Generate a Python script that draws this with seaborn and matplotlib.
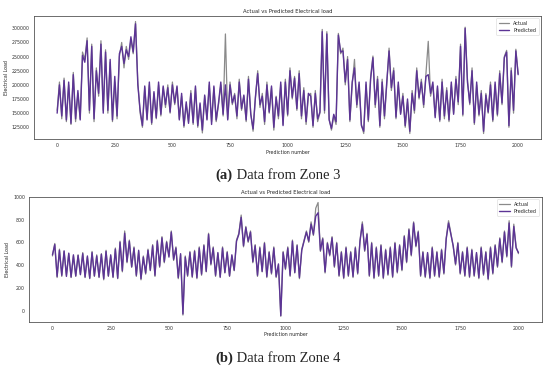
import numpy as np
import pandas as pd
import matplotlib
matplotlib.use('Agg')
import matplotlib.pyplot as plt
import seaborn as sns

# prediction index, one reading every 10 predictions
step = 10

# Zone 3 electrical load (thousands)
zone3_actual = [
    155, 205, 140, 212, 135, 200, 130, 222, 135, 185,
    140, 258, 245, 283, 150, 272, 135, 230, 180, 278,
    155, 262, 150, 240, 135, 205, 140, 250, 275, 230,
    268, 245, 280, 255, 312, 205, 150, 125, 195, 140,
    200, 130, 185, 140, 200, 145, 195, 160, 200, 150,
    205, 165, 195, 140, 180, 125, 165, 135, 190, 130,
    195, 125, 165, 115, 180, 140, 200, 135, 195, 135,
    165, 200, 145, 290, 140, 205, 165, 185, 140, 210,
    155, 180, 135, 215, 150, 118, 175, 225, 160, 185,
    130, 205, 150, 195, 120, 180, 140, 200, 130, 210,
    145, 230, 175, 215, 155, 225, 140, 195, 130, 180,
    185, 125, 190, 135, 150, 298, 150, 294, 140, 120,
    145, 130, 291, 255, 265, 200, 250, 135, 200, 245,
    160, 200, 130, 114, 200, 135, 215, 251, 160, 215,
    125, 210, 140, 200, 265, 190, 230, 140, 200, 150,
    185, 125, 170, 114, 190, 150, 230, 175, 210, 160,
    220, 277, 180, 200, 145, 195, 135, 210, 140, 195,
    135, 200, 150, 215, 165, 272, 145, 302, 210, 165,
    230, 130, 200, 145, 190, 114, 185, 150, 205, 135,
    200, 145, 225, 165, 250, 261, 125, 230, 150, 263,
    220,
]
zone3_predicted = [
    150, 200, 145, 208, 138, 205, 132, 218, 140, 190,
    138, 252, 240, 278, 155, 268, 140, 225, 185, 272,
    150, 258, 155, 245, 138, 215, 145, 255, 268, 238,
    262, 250, 285, 258, 308, 200, 155, 128, 198, 138,
    205, 133, 188, 142, 205, 148, 198, 165, 195, 152,
    200, 168, 198, 138, 185, 128, 170, 132, 185, 133,
    198, 128, 168, 120, 182, 138, 205, 130, 198, 138,
    168, 205, 148, 200, 138, 200, 168, 182, 145, 205,
    158, 182, 138, 210, 148, 122, 178, 220, 165, 180,
    135, 200, 152, 198, 125, 178, 145, 205, 128, 205,
    148, 225, 178, 212, 158, 220, 145, 190, 135, 185,
    180, 128, 185, 140, 152, 294, 155, 290, 138, 123,
    148, 135, 288, 258, 260, 205, 245, 138, 205, 230,
    165, 205, 128, 118, 205, 138, 210, 248, 165, 210,
    128, 205, 145, 205, 260, 195, 225, 143, 205, 148,
    180, 128, 175, 118, 185, 155, 225, 178, 205, 165,
    215, 218, 185, 205, 142, 198, 138, 205, 145, 190,
    138, 205, 148, 210, 170, 268, 148, 300, 205, 168,
    225, 133, 205, 148, 185, 118, 182, 152, 200, 138,
    205, 148, 220, 168, 248, 258, 128, 225, 155, 260,
    218,
]

# Zone 4 electrical load
zone4_actual = [
    480, 590, 290, 540, 300, 520, 310, 500, 290, 480,
    300, 490, 320, 510, 290, 470, 280, 520, 300, 490,
    290, 500, 270, 530, 300, 480, 290, 550, 280, 610,
    340, 700, 420, 620, 380, 560, 300, 520, 270, 480,
    320, 540, 350, 580, 300, 620, 380, 650, 420, 610,
    480, 700, 440, 560, 280, 490, -40, 480, 300, 520,
    290, 530, 280, 560, 310, 580, 340, 680, 400, 560,
    300, 500, 290, 560, 330, 520, 300, 480, 350, 620,
    680, 840, 560, 740, 600, 700, 420, 580, 300, 560,
    340, 600, 290, 520, 320, 560, 290, 400, -50, 520,
    360, 560, 300, 620, 330, 580, 280, 540, 620, 700,
    600, 780, 660, 900, 950, 520, 640, 330, 600, 480,
    650, 380, 600, 300, 520, 280, 560, 300, 520, 290,
    560, 320, 620, 780, 520, 680, 300, 600, 280, 560,
    300, 580, 280, 540, 310, 560, 290, 600, 330, 580,
    350, 660, 420, 720, 480, 780, 560, 700, 300, 520,
    290, 500, 280, 560, 300, 520, 290, 540, 320, 640,
    790, 680, 560, 400, 600, 320, 520, 300, 560, 290,
    540, 300, 500, 280, 560, 310, 520, 270, 560, 320,
    580, 380, 640, 420, 700, 470, 790, 380, 760, 560,
    500,
]
zone4_predicted = [
    490, 580, 300, 530, 310, 525, 300, 505, 295, 490,
    305, 485, 315, 500, 295, 480, 285, 510, 305, 480,
    295, 495, 280, 520, 305, 490, 295, 540, 285, 600,
    350, 680, 430, 610, 385, 550, 310, 530, 280, 470,
    330, 530, 355, 570, 310, 610, 390, 640, 430, 600,
    470, 690, 450, 550, 290, 500, -30, 470, 310, 510,
    300, 520, 290, 550, 320, 570, 345, 670, 410, 550,
    310, 510, 295, 550, 335, 510, 305, 490, 355, 610,
    670, 820, 570, 730, 610, 690, 430, 570, 310, 550,
    345, 590, 300, 510, 330, 550, 300, 410, -45, 510,
    370, 550, 310, 610, 335, 570, 290, 530, 610, 690,
    610, 760, 670, 830, 860, 530, 630, 340, 590, 490,
    640, 390, 590, 310, 510, 290, 550, 310, 510, 300,
    550, 330, 610, 760, 530, 670, 310, 590, 290, 550,
    310, 570, 290, 530, 320, 550, 300, 590, 340, 570,
    360, 650, 430, 710, 490, 770, 570, 690, 310, 510,
    300, 510, 290, 550, 310, 510, 300, 530, 330, 630,
    770, 670, 570, 410, 590, 330, 510, 310, 550, 300,
    530, 310, 510, 290, 550, 320, 510, 280, 550, 330,
    570, 390, 630, 430, 690, 480, 770, 390, 740, 550,
    510,
]

sns.set_style('white')
plt.rcParams['font.family'] = ['DejaVu Sans']

actual_color = '#8a8a8a'
pred_color = '#5c3495'

fig = plt.figure(figsize=(5.5, 3.7), dpi=100)
ax1 = fig.add_axes([0.062, 0.624, 0.922, 0.333])
ax2 = fig.add_axes([0.053, 0.130, 0.932, 0.338])


def draw(ax, actual, predicted, scale):
    x = np.arange(len(actual)) * step
    df = pd.DataFrame({'x': x,
                       'Actual': np.array(actual) * scale,
                       'Predicted': np.array(predicted) * scale})
    sns.lineplot(data=df, x='x', y='Actual', ax=ax, color=actual_color,
                 linewidth=0.9, label='Actual')
    sns.lineplot(data=df, x='x', y='Predicted', ax=ax, color=pred_color,
                 linewidth=1.0, label='Predicted')
    ax.set_title('Actual vs Predicted Electrical load', fontsize=3.8, pad=2)
    ax.set_xlabel('Prediction number', fontsize=3.4, labelpad=1)
    ax.set_ylabel('Electrical Load', fontsize=3.4, labelpad=2)
    ax.set_xticks([0, 250, 500, 750, 1000, 1250, 1500, 1750, 2000])
    ax.ticklabel_format(axis='y', style='plain', useOffset=False)
    ax.tick_params(labelsize=3.4, length=1.5, width=0.4, pad=1.5,
                   labelcolor='#333333')
    for s in ax.spines.values():
        s.set_linewidth(0.6)
        s.set_color('#555555')
    leg = ax.legend(loc='upper right', fontsize=3.5, handlelength=2.2,
                    borderpad=0.5, labelspacing=0.4, frameon=True)
    leg.get_frame().set_linewidth(0.4)


draw(ax1, zone3_actual, zone3_predicted, 1000)
draw(ax2, zone4_actual, zone4_predicted, 1)

# captions: bold tag + normal text, centred
renderer = fig.canvas.get_renderer()


def caption(y, tag, text):
    cap_font = dict(family='Liberation Serif', size=10.5, va='center')
    t1 = fig.text(0, y, tag, weight='bold', **cap_font)
    t2 = fig.text(0, y, text, **cap_font)
    w1 = t1.get_window_extent(renderer).width
    w2 = t2.get_window_extent(renderer).width
    W = fig.bbox.width
    x0 = (W - w1 - w2) / 2 + 3
    t1.set_x(x0 / W)
    t2.set_x((x0 + w1) / W)


caption(0.527, '(a)', '\u00a0Data from Zone 3')
caption(0.032, '(b)', '\u00a0Data from Zone 4')

fig.savefig('out.png', dpi=100)
